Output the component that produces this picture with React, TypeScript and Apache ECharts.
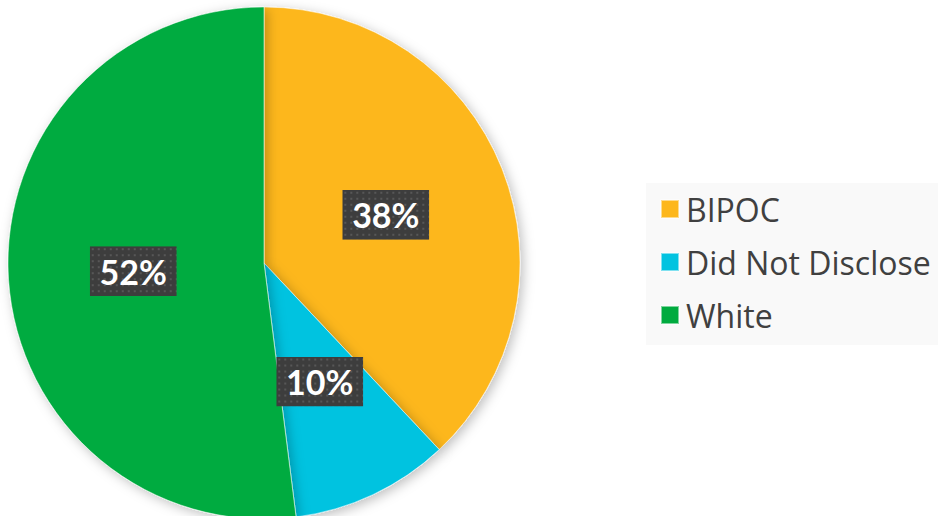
import React, { useEffect, useRef } from "react";
import * as echarts from "echarts";

const categories = ["BIPOC", "Did Not Disclose", "White"];
const values = [38, 10, 52];
const colors = ["#FDB71C", "#03C3E0", "#00AB3F"];

const patternSvg =
  "data:image/svg+xml;utf8," +
  encodeURIComponent(
    `<svg xmlns="http://www.w3.org/2000/svg" width="87" height="50" viewBox="0 0 87 50"><defs><pattern id="p" width="6" height="6" patternUnits="userSpaceOnUse"><rect width="6" height="6" fill="#3d3d3d"/><rect x="2" y="2" width="2" height="2" fill="#575757"/></pattern></defs><rect width="87" height="50" fill="url(#p)"/></svg>`
  );

export default function App() {
  const ref = useRef<HTMLDivElement>(null);
  useEffect(() => {
    if (!ref.current) return;
    const chart = echarts.init(ref.current, null, { renderer: "svg" });
    chart.setOption({
      animation: false,
      backgroundColor: "#ffffff",
      legend: {
        orient: "vertical",
        left: 646,
        top: 183,
        width: 292,
        padding: [10, 14, 14, 14],
        backgroundColor: "#f9f9f9",
        itemWidth: 18,
        itemHeight: 18,
        itemGap: 21,
        icon: "rect",
        data: categories,
        textStyle: {
          fontFamily: "Open Sans",
          fontSize: 32,
          lineHeight: 30,
          color: "#404040",
          padding: [0, 0, 0, 2],
        },
      },
      series: [
        {
          type: "pie",
          center: [264, 263],
          radius: [0, 256],
          startAngle: 90,
          clockwise: true,
          silent: true,
          itemStyle: {
            borderColor: "rgba(255,255,255,0.5)",
            borderWidth: 1,
            shadowBlur: 12,
            shadowColor: "rgba(0,0,0,0.25)",
            shadowOffsetX: 3,
            shadowOffsetY: 3,
          },
          label: {
            show: true,
            position: "inside",
            formatter: (p: any) => p.value + "%",
            color: "#ffffff",
            fontFamily: "Lato",
            fontWeight: "bold",
            fontSize: 34,
            width: 87,
            height: 50,
            lineHeight: 50,
            align: "center",
            verticalAlign: "middle",
            backgroundColor: { image: patternSvg },
            shadowColor: "rgba(0,0,0,0.45)",
            shadowBlur: 4,
            shadowOffsetX: 3,
            shadowOffsetY: 3,
          },
          labelLine: { show: false },
          data: categories.map((c, i) => ({
            name: c,
            value: values[i],
            itemStyle: { color: colors[i] },
          })),
        },
      ],
    });
    return () => chart.dispose();
  }, []);
  return (
    <div
      ref={ref}
      style={{ position: "absolute", left: 0, top: 0, width: 938, height: 516 }}
    />
  );
}
